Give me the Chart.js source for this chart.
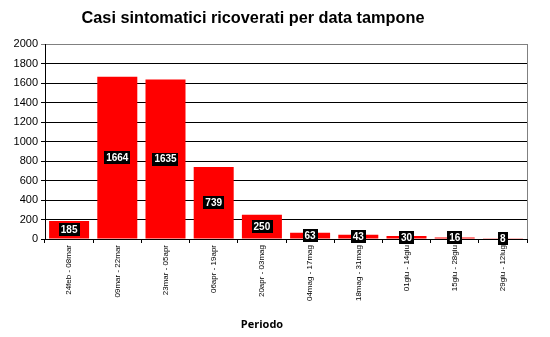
<!DOCTYPE html>
<html>
<head>
<meta charset="utf-8">
<script src="https://cdn.jsdelivr.net/npm/chart.js@4/dist/chart.umd.min.js"></script>
<style>
  html, body { margin: 0; padding: 0; background: #fff; }
</style>
</head>
<body>
<canvas id="c" width="550" height="337"></canvas>
<script>
const periodi = ["24feb - 08mar", "09mar - 22mar", "23mar - 05apr", "06apr - 19apr", "20apr - 03mag",
  "04mag - 17mag", "18mag - 31mag", "01giu - 14giu", "15giu - 28giu", "29giu - 12lug"];
const ricoverati = [185, 1664, 1635, 739, 250, 63, 43, 30, 16, 8];
const yTicks = [0, 200, 400, 600, 800, 1000, 1200, 1400, 1600, 1800, 2000];
const titolo = 'Casi sintomatici ricoverati per data tampone';
const titoloAsse = 'Periodo';

// black boxes with the value, centred on each bar
const valueBoxes = {
  id: 'valueBoxes',
  afterDatasetsDraw(chart) {
    const ctx = chart.ctx;
    const meta = chart.getDatasetMeta(0);
    ctx.save();
    ctx.font = 'bold 10px "Liberation Sans", Arial, sans-serif';
    ctx.textAlign = 'center';
    ctx.textBaseline = 'middle';
    meta.data.forEach((bar, i) => {
      const txt = String(ricoverati[i]);
      const w = ctx.measureText(txt).width + 4;
      const h = 13;
      const cy = (bar.y + bar.base) / 2;
      ctx.fillStyle = '#000';
      ctx.fillRect(Math.round(bar.x - w / 2), Math.round(cy - h / 2), Math.round(w), h);
      ctx.fillStyle = '#fff';
      ctx.fillText(txt, bar.x, cy + 0.5);
    });
    ctx.restore();
  }
};

// grey frame on the right, plus the chart title and the axis title
const frame = {
  id: 'frame',
  beforeDatasetsDraw(chart) {
    const a = chart.chartArea;
    const ctx = chart.ctx;
    ctx.save();
    ctx.strokeStyle = '#808080';
    ctx.lineWidth = 1;
    ctx.beginPath();
    ctx.moveTo(a.right + 0.5, a.top);
    ctx.lineTo(a.right + 0.5, a.bottom);
    ctx.stroke();
    ctx.restore();
  },
  afterDraw(chart) {
    const ctx = chart.ctx;
    ctx.save();
    ctx.fillStyle = '#000';
    ctx.textAlign = 'center';
    ctx.textBaseline = 'middle';
    ctx.font = 'bold 16.3px "Liberation Sans", Arial, sans-serif';
    ctx.fillText(titolo, 253, 19);
    ctx.font = 'bold 11px "Open Sans", sans-serif';
    ctx.fillText(titoloAsse, 262, 325);
    ctx.restore();
  }
};

const loadChart = function () {
  new Chart(document.getElementById('c'), {
    type: 'bar',
    data: {
      labels: periodi,
      datasets: [{
        data: ricoverati,
        backgroundColor: '#ff0000',
        borderWidth: 0,
        categoryPercentage: 1,
        barPercentage: 0.83
      }]
    },
    options: {
      responsive: false,
      animation: false,
      devicePixelRatio: 1,
      layout: { padding: { left: 0, right: 23, top: 44, bottom: 0 } },
      plugins: {
        legend: { display: false },
        tooltip: { enabled: false },
        title: { display: false }
      },
      scales: {
        y: {
          min: 0,
          max: 2000,
          afterBuildTicks(scale) { scale.ticks = yTicks.map(v => ({ value: v })); },
          afterFit(scale) { scale.width = 45; },
          border: { display: true, color: '#000', width: 1 },
          grid: {
            color: ctx => ctx.tick && ctx.tick.value === 2000 ? '#808080' : '#000',
            lineWidth: 1,
            tickLength: 4,
            drawTicks: true
          },
          ticks: {
            color: '#000',
            padding: 3,
            callback: v => String(v),
            font: { family: '"Liberation Sans", Arial, sans-serif', size: 11 }
          }
        },
        x: {
          afterFit(scale) { scale.height = 98; },
          border: { display: true, color: '#000', width: 1 },
          grid: { display: true, drawOnChartArea: false, offset: true, color: '#000', tickLength: 4 },
          ticks: {
            color: '#000',
            padding: 2,
            autoSkip: false,
            minRotation: 90,
            maxRotation: 90,
            font: { family: '"Liberation Sans", Arial, sans-serif', size: 8 }
          }
        }
      }
    },
    plugins: [frame, valueBoxes]
  });
};

loadChart();
</script>
</body>
</html>
